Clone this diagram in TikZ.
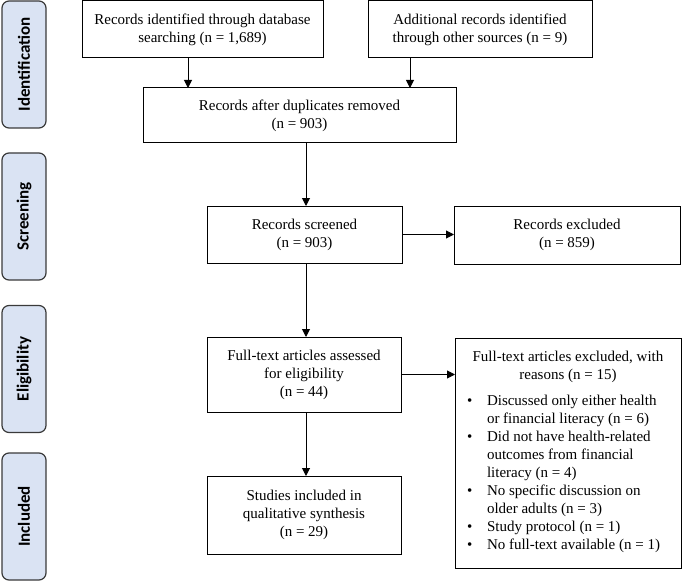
\documentclass[tikz,border=0pt]{standalone}
\usepackage{fontspec}
\setmainfont{Liberation Serif}
\newfontfamily\labfont{Carlito}
\usetikzlibrary{arrows.meta}
\definecolor{stagefill}{HTML}{DAE3F3}
\definecolor{stageline}{HTML}{3A3A3A}
\begin{document}
\begin{tikzpicture}[x=1pt,y=-1pt,
  every node/.style={inner sep=0pt,outer sep=0pt},
  flowbox/.style={draw=black,line width=1pt,rectangle,align=center,
    font=\fontsize{15}{18}\selectfont},
  stagebox/.style={draw=stageline,fill=stagefill,line width=1.2pt,
    rounded corners=7pt,minimum width=44pt,minimum height=127pt},
  stagetext/.style={rotate=90,font=\labfont\bfseries\fontsize{17}{20}\selectfont},
  arr/.style={line width=1pt,-{Triangle[length=8pt,width=8pt]}}]
\useasboundingbox (0,0) rectangle (683,583);

% stage labels
\node[stagebox] (sid) at (24,64.5) {};
\node[stagetext] (tid) at (sid.center) {Identification};
\node[stagebox] (ssc) at (24,216.5) {};
\node[stagetext] (tsc) at (ssc.center) {Screening};
\node[stagebox] (sel) at (24,369) {};
\node[stagetext] (tel) at (sel.center) {Eligibility};
\node[stagebox] (sin) at (24,516.5) {};
\node[stagetext] (tin) at (sin.center) {Included};

% flow boxes
\node[flowbox,minimum width=241pt,minimum height=57pt] (db) at (202.5,29.5)
  {Records identified through database\\searching (n = 1,689)};
\node[flowbox,minimum width=224pt,minimum height=57pt] (oth) at (480,29.5)
  {Additional records identified\\through other sources (n = 9)};
\node[flowbox,minimum width=313pt,minimum height=55pt] (dup) at (299.5,115.5)
  {Records after duplicates removed\\(n = 903)};
\node[flowbox,minimum width=195pt,minimum height=57pt] (scr) at (304.5,234.5)
  {Records screened\\(n = 903)};
\node[flowbox,minimum width=226pt,minimum height=58pt] (ex1) at (567,235)
  {Records excluded\\(n = 859)};
\node[flowbox,minimum width=194pt,minimum height=75pt] (ass) at (304,374.5)
  {Full-text articles assessed\\for eligibility\\(n = 44)};
\node[flowbox,minimum width=194pt,minimum height=78pt] (stu) at (304,515)
  {Studies included in\\qualitative synthesis\\(n = 29)};
\node[flowbox,minimum width=226pt,minimum height=230pt] (ex2) at (568,453)
  {\begin{minipage}{206pt}\fontsize{15}{18}\selectfont
   {\centering Full-text articles excluded, with\\reasons (n = 15)\par}
   \vspace{9pt}
   \begin{tabular}{@{}p{22pt}@{}l@{}}
   \hspace{2pt}\textbullet & Discussed only either health\\
    & or financial literacy (n = 6)\\
   \hspace{2pt}\textbullet & Did not have health-related\\
    & outcomes from financial\\
    & literacy (n = 4)\\
   \hspace{2pt}\textbullet & No specific discussion on\\
    & older adults (n = 3)\\
   \hspace{2pt}\textbullet & Study protocol (n = 1)\\
   \hspace{2pt}\textbullet & No full-text available (n = 1)
   \end{tabular}
   \end{minipage}};

% connector x positions
\coordinate (xa) at (188,0);
\coordinate (xb) at (410,0);
\coordinate (xc) at (306,0);

\draw[arr] (db.south -| xa) -- (dup.north -| xa);
\draw[arr] (oth.south -| xb) -- (dup.north -| xb);
\draw[arr] (dup.south -| xc) -- (scr.north -| xc);
\draw[arr] (scr.south -| xc) -- (ass.north -| xc);
\draw[arr] (ass.south -| xc) -- (stu.north -| xc);
\draw[arr] (scr.east) -- (ex1.west |- scr.east);
\draw[arr] (ass.east) -- (ex2.west |- ass.east);
\end{tikzpicture}
\end{document}
